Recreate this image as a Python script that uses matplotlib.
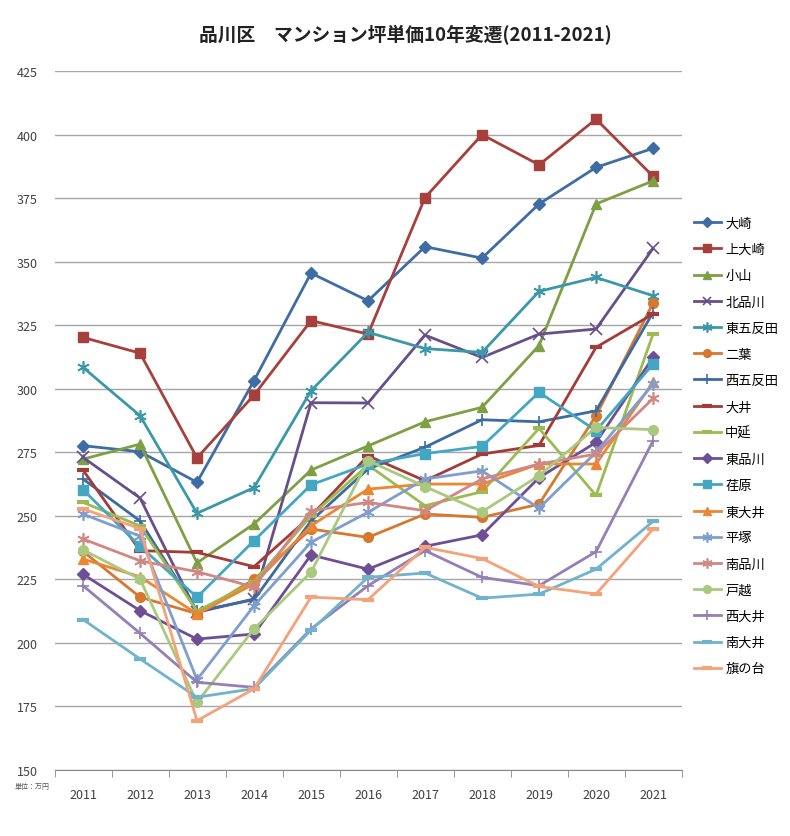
import matplotlib
matplotlib.use("Agg")
import matplotlib.pyplot as plt

plt.rcParams['font.family'] = ['Noto Sans CJK JP', 'DejaVu Sans']

years = ["2011", "2012", "2013", "2014", "2015", "2016", "2017", "2018", "2019", "2020", "2021"]

# 坪単価 (万円) per area
osaki = [277.6, 275.2, 263.2, 303.2, 345.5, 334.6, 355.9, 351.4, 372.7, 387.1, 394.6]
kamiosaki = [320.2, 314.0, 272.8, 297.5, 326.8, 321.5, 375.2, 400.0, 388.1, 406.1, 383.6]
koyama = [272.3, 278.2, 231.5, 246.8, 268.0, 277.5, 287.0, 292.7, 317.0, 372.7, 381.8]
kitashinagawa = [273.0, 257.0, 212.0, 217.3, 294.5, 294.4, 321.1, 312.3, 321.5, 323.5, 355.2]
higashigotanda = [308.4, 289.4, 251.0, 261.1, 299.2, 322.2, 315.8, 314.3, 338.3, 343.8, 336.6]
futaba = [236.0, 218.0, 211.5, 225.0, 244.8, 241.5, 250.7, 249.4, 254.6, 289.4, 333.7]
nishigotanda = [264.5, 248.0, 212.5, 217.0, 248.0, 268.4, 277.0, 287.8, 287.0, 291.3, 330.0]
ooi = [268.0, 236.3, 235.6, 230.0, 250.0, 273.6, 263.8, 274.3, 277.7, 316.3, 329.4]
nakanobu = [255.3, 246.0, 212.5, 224.0, 250.0, 270.0, 254.0, 259.5, 284.4, 258.0, 321.5]
higashishinagawa = [227.0, 212.7, 201.5, 203.5, 234.6, 229.0, 238.0, 242.5, 265.0, 278.9, 312.3]
ebara = [260.3, 238.0, 218.0, 240.2, 262.2, 270.4, 274.5, 277.3, 298.6, 283.5, 309.7]
higashiooi = [233.0, 226.0, 211.4, 223.2, 246.1, 260.5, 262.5, 262.5, 270.4, 270.4, 302.5]
hiratsuka = [250.7, 242.0, 185.5, 214.6, 239.6, 251.4, 264.5, 267.7, 253.0, 275.0, 301.8]
minamishinagawa = [240.9, 232.3, 228.0, 222.0, 252.0, 255.3, 252.0, 264.5, 270.4, 274.3, 296.2]
togoshi = [236.6, 225.1, 176.6, 205.5, 227.8, 271.7, 261.5, 251.6, 265.8, 284.8, 283.9]
nishiooi = [222.5, 203.8, 184.5, 182.5, 205.5, 222.5, 236.3, 225.8, 222.5, 235.9, 279.5]
minamiooi = [209.2, 193.7, 178.6, 182.0, 205.0, 225.8, 227.5, 217.6, 219.2, 229.0, 247.8]
hatanodai = [252.7, 245.0, 169.4, 181.9, 218.0, 217.0, 237.6, 233.2, 222.2, 219.2, 244.8]

ASTER = (6, 2, 0)
series = [
    ("大崎", osaki, "#3F6CA5", "D", 6),
    ("上大崎", kamiosaki, "#A6403D", "s", 7),
    ("小山", koyama, "#7F9F45", "^", 7),
    ("北品川", kitashinagawa, "#66508A", "x", 8),
    ("東五反田", higashigotanda, "#3A98A8", ASTER, 9),
    ("二葉", futaba, "#D7782F", "o", 7),
    ("西五反田", nishigotanda, "#3B6BA0", "+", 9),
    ("大井", ooi, "#A33B38", "_", 9),
    ("中延", nakanobu, "#9CBB52", "_", 9),
    ("東品川", higashishinagawa, "#6E4F95", "D", 6),
    ("荏原", ebara, "#43A7C3", "s", 7),
    ("東大井", higashiooi, "#EA8734", "^", 7),
    ("平塚", hiratsuka, "#7F9ED0", ASTER, 9),
    ("南品川", minamishinagawa, "#D18784", ASTER, 9),
    ("戸越", togoshi, "#A9C97E", "o", 7),
    ("西大井", nishiooi, "#9480B5", "+", 9),
    ("南大井", minamiooi, "#6FB3CC", "_", 9),
    ("旗の台", hatanodai, "#F3A27A", "_", 9),
]

fig = plt.figure(figsize=(7.9, 8.37), dpi=100)
ax = fig.add_axes([0.069, 0.0789, 0.7937, 0.835])

x = range(len(years))
for name, vals, color, marker, ms in series:
    if marker == "_":
        mew = 3.0
    elif marker in ("x", "+", ASTER):
        mew = 1.2
    else:
        mew = 1.0
    ax.plot(x, vals, color=color, lw=2.0, marker=marker, markersize=ms,
            markeredgewidth=mew, markerfacecolor=color, markeredgecolor=color,
            label=name)

ax.set_ylim(150, 425)
ax.set_yticks(range(150, 426, 25))
ax.set_xlim(-0.5, len(years) - 0.5)
ax.set_xticks(list(x))
ax.set_xticklabels(years)
ax.set_xticks([i - 0.5 for i in range(len(years) + 1)], minor=True)
ax.tick_params(axis="x", which="major", length=0, labelsize=9, pad=13, colors="#404040")
ax.tick_params(axis="x", which="minor", length=5, color="#888888")
ax.tick_params(axis="y", length=0, labelsize=9, pad=12, colors="#404040")
ax.grid(axis="y", color="#A6A6A6", lw=1.0)
ax.set_axisbelow(True)
for side in ("left", "right", "top"):
    ax.spines[side].set_visible(False)
ax.spines["bottom"].set_color("#888888")

fig.text(0.513, 0.958, "品川区　マンション坪単価10年変遷(2011-2021)",
         ha="center", va="center", fontsize=13.5, fontweight="bold", color="#222222")
fig.text(0.018, 0.057, "単位：万円", fontsize=5, color="#555555")

fig.legend(loc="upper left", bbox_to_anchor=(0.872, 0.746), frameon=False,
           fontsize=9.5, labelspacing=1.0, handlelength=2.0, handletextpad=0.35,
           borderaxespad=0, markerscale=0.8)

fig.savefig("out.png", dpi=100)
